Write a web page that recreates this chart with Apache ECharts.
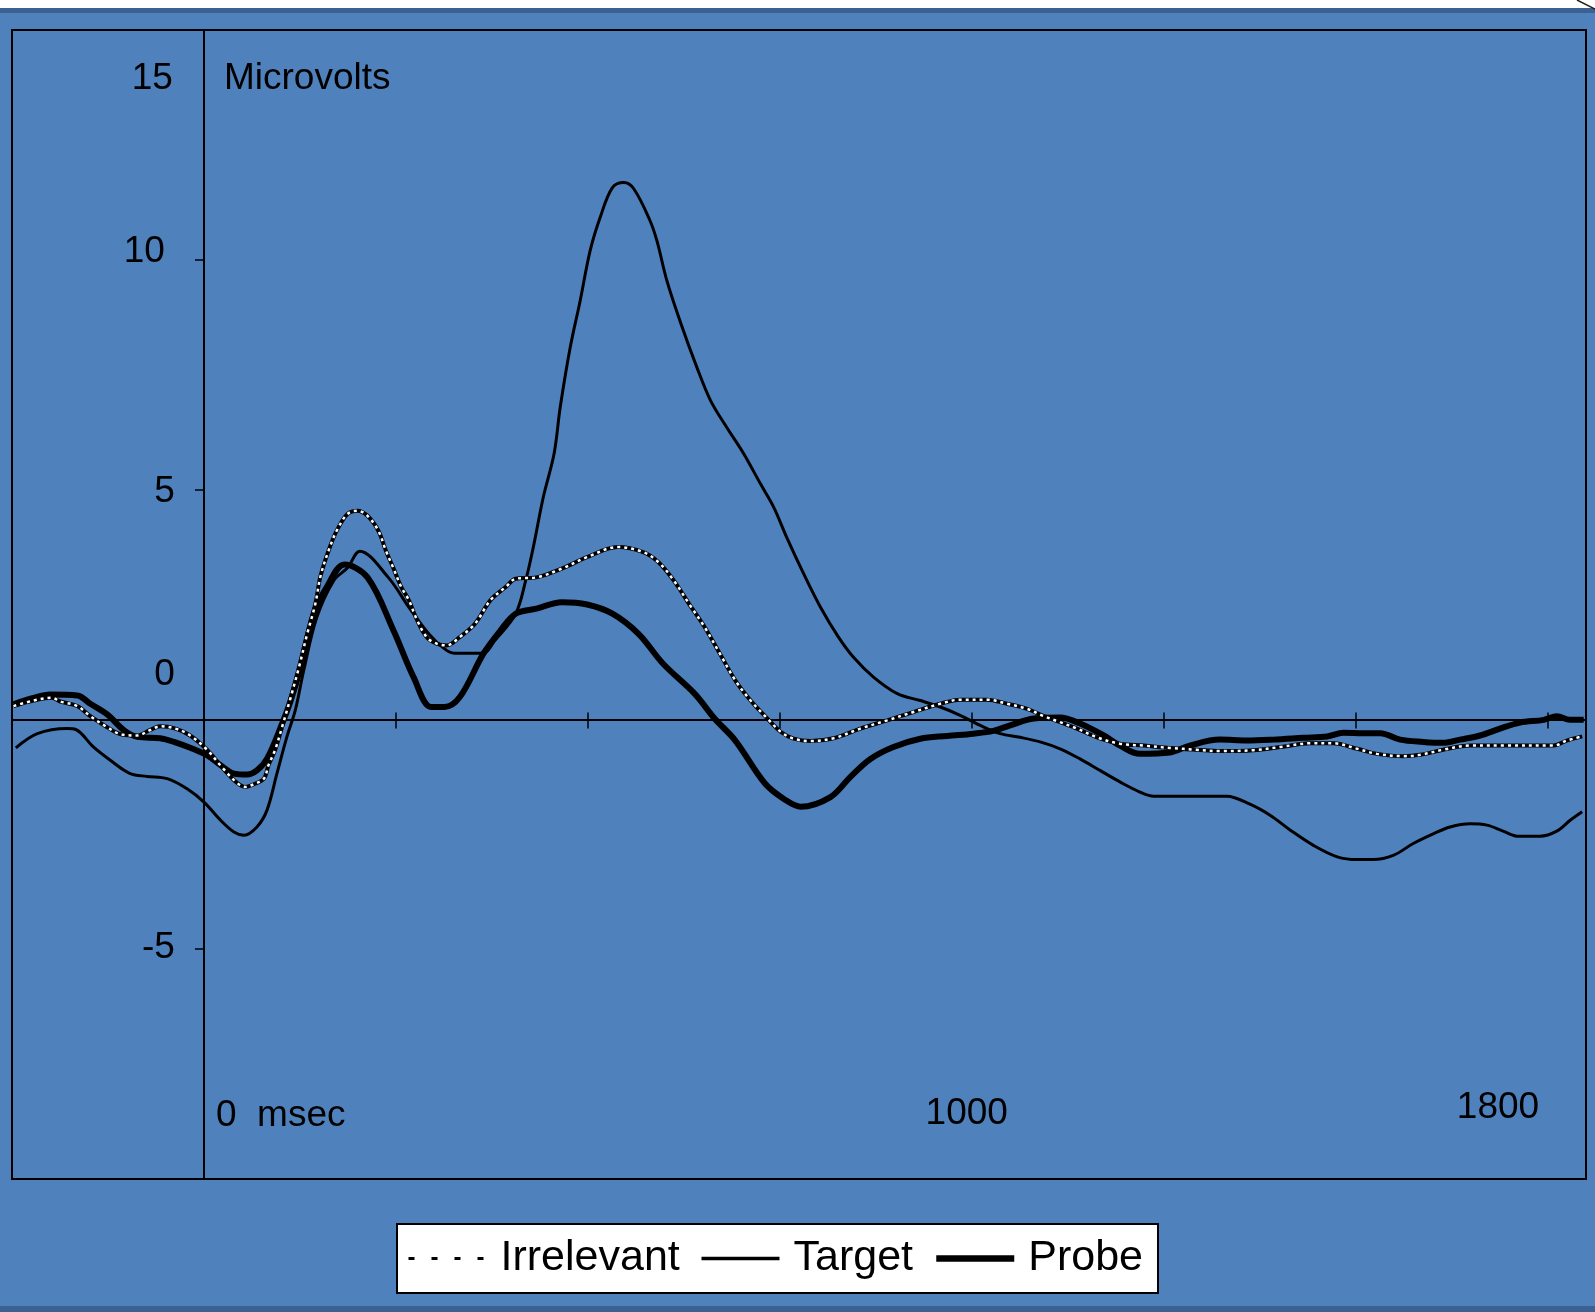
<!DOCTYPE html>
<html>
<head>
<meta charset="utf-8">
<script src="https://cdn.jsdelivr.net/npm/echarts@6/dist/echarts.min.js"></script>
<style>
  html, body { margin: 0; padding: 0; background: #4f81bd; }
  #chart { width: 1595px; height: 1312px; }
</style>
</head>
<body>
<div id="chart"></div>
<script>
// Grand-average ERP waveforms, time in ms relative to stimulus onset, amplitude in microvolts.
const irrelevantMs = [-248, -222, -198, -187, -165, -148, -126, -107, -87, -70, -57, -37, -18, 4, 24, 43, 54, 65, 78, 84, 93, 102, 113, 124, 134, 145, 152, 164, 174, 187, 200, 213, 227, 237, 247, 257, 267, 276, 290, 303, 316, 333, 353, 373, 393, 406, 433, 466, 499, 539, 572, 592, 612, 632, 652, 672, 692, 712, 732, 752, 768, 790, 820, 855, 890, 924, 959, 985, 1020, 1046, 1072, 1094, 1115, 1137, 1163, 1193, 1224, 1258, 1293, 1323, 1367, 1402, 1441, 1471, 1502, 1528, 1562, 1584, 1614, 1649, 1692, 1758, 1775, 1795];
const irrelevantUv = [0.29, 0.41, 0.47, 0.39, 0.29, 0.07, -0.17, -0.33, -0.35, -0.23, -0.15, -0.20, -0.35, -0.66, -1.05, -1.38, -1.47, -1.41, -1.29, -1.00, -0.65, -0.15, 0.48, 1.15, 1.83, 2.51, 3.13, 3.75, 4.14, 4.47, 4.54, 4.43, 4.11, 3.67, 3.28, 2.88, 2.59, 2.22, 1.79, 1.65, 1.61, 1.79, 2.08, 2.59, 2.88, 3.06, 3.09, 3.28, 3.53, 3.75, 3.64, 3.42, 3.02, 2.51, 2.01, 1.43, 0.85, 0.41, 0.05, -0.28, -0.42, -0.47, -0.41, -0.20, -0.02, 0.16, 0.34, 0.43, 0.43, 0.34, 0.23, 0.07, -0.06, -0.20, -0.39, -0.53, -0.57, -0.62, -0.66, -0.69, -0.67, -0.60, -0.52, -0.52, -0.64, -0.75, -0.80, -0.77, -0.66, -0.57, -0.57, -0.57, -0.46, -0.37];

const targetMs = [-245, -217, -178, -167, -144, -122, -96, -74, -48, -22, 0, 22, 39, 52, 69, 82, 95, 108, 119, 130, 147, 169, 187, 203, 240, 267, 293, 313, 326, 363, 379, 406, 419, 429, 442, 456, 464, 477, 490, 503, 516, 532, 547, 560, 581, 590, 603, 620, 642, 660, 681, 703, 725, 742, 759, 781, 803, 826, 846, 872, 903, 933, 959, 985, 1011, 1037, 1063, 1089, 1115, 1141, 1167, 1193, 1219, 1237, 1271, 1332, 1363, 1389, 1415, 1445, 1476, 1502, 1523, 1549, 1575, 1601, 1623, 1649, 1671, 1692, 1710, 1740, 1762, 1779, 1795];
const targetUv = [-0.62, -0.31, -0.20, -0.22, -0.60, -0.89, -1.18, -1.24, -1.29, -1.51, -1.80, -2.20, -2.45, -2.52, -2.34, -1.98, -1.18, -0.38, 0.20, 1.07, 2.22, 3.02, 3.30, 3.66, 3.09, 2.44, 1.86, 1.54, 1.44, 1.44, 1.72, 2.30, 3.02, 3.75, 4.84, 5.78, 6.79, 8.09, 9.11, 10.20, 10.92, 11.57, 11.68, 11.54, 10.85, 10.41, 9.54, 8.67, 7.66, 6.93, 6.35, 5.78, 5.12, 4.62, 3.96, 3.17, 2.44, 1.80, 1.35, 0.92, 0.56, 0.41, 0.27, 0.09, -0.13, -0.31, -0.39, -0.49, -0.64, -0.86, -1.11, -1.36, -1.58, -1.67, -1.67, -1.67, -1.85, -2.09, -2.41, -2.74, -2.99, -3.05, -3.05, -2.96, -2.70, -2.49, -2.34, -2.27, -2.30, -2.43, -2.54, -2.54, -2.43, -2.20, -2.01];

const probeMs = [-248, -222, -200, -165, -148, -126, -104, -87, -57, -39, -13, 4, 22, 39, 56, 69, 82, 100, 113, 126, 143, 160, 183, 213, 247, 273, 296, 313, 333, 364, 386, 406, 433, 466, 499, 532, 566, 598, 639, 665, 692, 731, 758, 777, 816, 842, 868, 898, 933, 968, 1002, 1028, 1050, 1081, 1115, 1141, 1172, 1193, 1219, 1258, 1284, 1323, 1358, 1393, 1432, 1463, 1484, 1510, 1532, 1558, 1588, 1614, 1636, 1662, 1688, 1714, 1745, 1762, 1779, 1797];
const probeUv = [0.33, 0.47, 0.54, 0.52, 0.34, 0.11, -0.24, -0.38, -0.41, -0.49, -0.65, -0.78, -1.00, -1.18, -1.20, -1.11, -0.86, -0.17, 0.41, 1.14, 2.30, 2.88, 3.37, 3.09, 1.93, 0.92, 0.27, 0.27, 0.48, 1.43, 1.93, 2.30, 2.41, 2.55, 2.50, 2.30, 1.86, 1.21, 0.56, 0.02, -0.46, -1.40, -1.76, -1.90, -1.69, -1.25, -0.86, -0.60, -0.42, -0.36, -0.31, -0.25, -0.13, 0.02, 0.04, -0.09, -0.35, -0.57, -0.75, -0.72, -0.57, -0.44, -0.46, -0.44, -0.40, -0.37, -0.29, -0.30, -0.30, -0.44, -0.49, -0.51, -0.44, -0.35, -0.20, -0.07, -0.01, 0.07, -0.01, -0.01];

const legendNames = ['Irrelevant', 'Target', 'Probe'];
const yTickValues = [15, 10, 5, 0, -5];
const xTickTexts = ['0  msec', '1000', '1800'];
const xTickValues = [0, 1000, 1800];
const unitText = 'Microvolts';

const FONT = '"Liberation Sans", Arial, sans-serif';
const pairs = (xs, ys) => xs.map((x, i) => [x, ys[i]]);

const chart = echarts.init(document.getElementById('chart'), null, { renderer: 'canvas' });

const baseXAxis = {
  type: 'value',
  min: -250,
  max: 1800,
  interval: 250,
  position: 'bottom',
  axisLabel: { show: false },
  splitLine: { show: false }
};

const option = {
  animation: false,
  backgroundColor: '#4f81bd',
  grid: {
    left: 12, top: 30, width: 1574, height: 1149,
    show: true,
    borderColor: '#000',
    borderWidth: 2,
    backgroundColor: 'transparent',
    containLabel: false,
    outerBoundsMode: 'none'
  },
  xAxis: [
    Object.assign({}, baseXAxis, {
      axisLine: { onZero: true, onZeroAxisIndex: 0, lineStyle: { color: '#000', width: 2 } },
      axisTick: { show: true, inside: false, length: 9, lineStyle: { color: '#000', width: 1.5 } }
    }),
    Object.assign({}, baseXAxis, {
      axisLine: { show: false, onZero: true, onZeroAxisIndex: 0 },
      axisTick: { show: true, inside: true, length: 7, lineStyle: { color: '#000', width: 1.5 } }
    })
  ],
  yAxis: {
    type: 'value',
    min: -10,
    max: 15,
    interval: 5,
    axisLine: { onZero: true, onZeroAxisIndex: 0, lineStyle: { color: '#000', width: 2 } },
    axisTick: { show: true, inside: false, length: 9, lineStyle: { color: '#000', width: 1.5 } },
    axisLabel: { show: false },
    splitLine: { show: false }
  },
  legend: {
    left: 397,
    top: 1224,
    orient: 'horizontal',
    selectedMode: false,
    data: [
      { name: legendNames[0], lineStyle: { type: [6, 17], width: 3, color: '#000' } },
      { name: legendNames[1], lineStyle: { width: 3.5, color: '#000' } },
      { name: legendNames[2], lineStyle: { width: 6.5, color: '#000' } }
    ],
    itemWidth: 78,
    itemHeight: 14,
    itemGap: 20,
    itemStyle: { opacity: 0 },
    textStyle: { fontFamily: FONT, fontSize: 43, color: '#000', padding: [0, 0, 0, 9] },
    backgroundColor: '#fff',
    borderColor: '#000',
    borderWidth: 2,
    borderRadius: 0,
    padding: [13, 15, 13, 10]
  },
  series: [
    {
      name: legendNames[1],
      type: 'line',
      data: pairs(targetMs, targetUv),
      symbol: 'none',
      smooth: 0.35,
      lineStyle: { color: '#000', width: 3 },
      itemStyle: { color: '#000' },
      z: 2
    },
    {
      name: legendNames[2],
      type: 'line',
      data: pairs(probeMs, probeUv),
      symbol: 'none',
      smooth: 0.35,
      lineStyle: { color: '#000', width: 6 },
      itemStyle: { color: '#000' },
      z: 3
    },
    {
      name: legendNames[0],
      type: 'line',
      data: pairs(irrelevantMs, irrelevantUv),
      symbol: 'none',
      smooth: 0.35,
      lineStyle: { color: '#000', width: 4 },
      itemStyle: { color: '#000' },
      z: 4
    },
    {
      // white dots laid over the black trace give the dotted look
      name: 'irrelevant-dots',
      type: 'line',
      data: pairs(irrelevantMs, irrelevantUv),
      symbol: 'none',
      smooth: 0.35,
      silent: true,
      lineStyle: { color: '#fff', width: 2.5, type: [3, 4] },
      z: 5
    }
  ]
};

chart.setOption(option);

// Text placed next to the axes, positioned from the axis scales.
const toPx = (x, y) => chart.convertToPixel({ xAxisIndex: 0, yAxisIndex: 0 }, [x, y]);
const yLabelShift = { '15': [-31, 49], '10': [-39, -8], '5': [-29, 2], '0': [-29, -45], '-5': [-29, -1] };
const textStyle = (extra) => Object.assign({ font: '37px ' + FONT, fill: '#000' }, extra);

const graphics = [
  { type: 'rect', shape: { x: 0, y: 0, width: 1595, height: 8 }, style: { fill: '#fff' }, silent: true },
  { type: 'rect', shape: { x: 0, y: 8, width: 1595, height: 5 }, style: { fill: '#3a6191' }, silent: true },
  { type: 'line', shape: { x1: 1577, y1: 0, x2: 1595, y2: 9 }, style: { stroke: '#222', lineWidth: 1.5 }, silent: true },
  { type: 'rect', shape: { x: 0, y: 1306, width: 1595, height: 6 }, style: { fill: '#3a6191' }, silent: true }
];

yTickValues.forEach(v => {
  const p = toPx(0, v);
  const s = yLabelShift[String(v)];
  graphics.push({
    type: 'text', silent: true,
    x: p[0] + s[0], y: p[1] + s[1],
    style: textStyle({ text: String(v), align: 'right', verticalAlign: 'middle' })
  });
});

{
  const p = toPx(0, 15);
  graphics.push({
    type: 'text', silent: true,
    x: p[0] + 20, y: p[1] + 49,
    style: textStyle({ text: unitText, align: 'left', verticalAlign: 'middle' })
  });
}

const xLabelPlace = [
  { dx: 12, dy: 2, align: 'left' },
  { dx: -5, dy: 0, align: 'center' },
  { dx: -88, dy: -6, align: 'center' }
];
xTickValues.forEach((v, i) => {
  const p = toPx(v, -10);
  const pl = xLabelPlace[i];
  graphics.push({
    type: 'text', silent: true,
    x: p[0] + pl.dx, y: p[1] - 65 + pl.dy,
    style: textStyle({ text: xTickTexts[i], align: pl.align, verticalAlign: 'middle' })
  });
});

chart.setOption({ graphic: graphics });
</script>
</body>
</html>
